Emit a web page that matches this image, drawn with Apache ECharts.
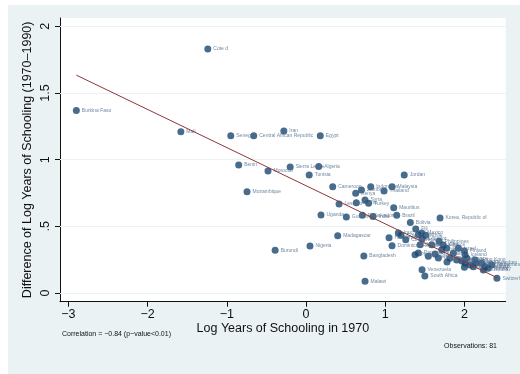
<!DOCTYPE html>
<html>
<head>
<meta charset="utf-8">
<script src="https://cdn.jsdelivr.net/npm/echarts@6/dist/echarts.min.js"></script>
<style>
  html, body { margin: 0; padding: 0; background: #ffffff; }
  #chart { width: 520px; height: 374px; }
</style>
</head>
<body>
<div id="chart"></div>
<script>
// Country labels, log years of schooling in 1970, and change 1970-1990
const countries = [
  "Burkina Faso", "Cote d", "Mali", "Senegal", "Central African Republic", "Iran", "Egypt",
  "Benin", "Morocco", "Sierra Leone", "Algeria", "Tunisia", "Jordan", "Mozambique",
  "Cameroon", "Kenya", "Zambia", "Indonesia", "Malaysia", "Thailand", "Lesotho", "Ghana",
  "Syria", "Turkey", "Mauritius", "Uganda", "Guatemala", "El Salvador", "India", "Brazil",
  "Bolivia", "Korea, Republic of", "Madagascar", "Burundi", "Nigeria", "Bangladesh", "Malawi",
  "Venezuela", "South Africa", "Switzerland", "Fiji", "Honduras", "Dominican Republic", "Iraq",
  "Colombia", "Costa Rica", "Peru", "Mexico", "Ecuador", "Jamaica", "Chile", "Sri Lanka",
  "Philippines", "Panama", "Paraguay", "Argentina", "Portugal", "Uruguay", "Cyprus", "Greece",
  "Spain", "Italy", "Israel", "Finland", "Trinidad and Tobago", "Singapore", "Ireland", "Austria",
  "Belgium", "France", "Iceland", "Japan", "United Kingdom", "Hong Kong", "Sweden", "Denmark",
  "Norway", "Australia", "Netherlands", "New Zealand", "Canada"
];
const logSchool1970 = [
  -2.90, -1.24, -1.58, -0.95, -0.66, -0.28, 0.18,
  -0.85, -0.48, -0.20, 0.16, 0.04, 1.24, -0.745,
  0.337, 0.627, 0.70, 0.817, 1.086, 0.985, 0.417, 0.635,
  0.745, 0.79, 1.107, 0.189, 0.509, 0.711, 0.846, 1.145,
  1.317, 1.692, 0.40, -0.39, 0.05, 0.73, 0.745,
  1.465, 1.50, 2.41, 1.385, 1.048, 1.086, 1.165,
  1.20, 1.259, 1.418, 1.461, 1.468, 1.44, 1.511, 1.587,
  1.68, 1.376, 1.418, 1.544, 1.629, 1.671, 1.713, 1.733,
  1.776, 1.86, 1.923, 2.00, 1.78, 1.818, 1.903, 1.966,
  2.008, 2.03, 2.008, 2.00, 2.147, 2.134, 2.218, 2.26,
  2.30, 2.239, 2.345, 2.112, 2.07
];
const diffLogSchool = [
  1.37, 1.83, 1.21, 1.18, 1.18, 1.215, 1.18,
  0.96, 0.915, 0.945, 0.95, 0.885, 0.885, 0.76,
  0.797, 0.748, 0.773, 0.797, 0.797, 0.765, 0.668, 0.677,
  0.698, 0.673, 0.64, 0.585, 0.57, 0.583, 0.575, 0.583,
  0.53, 0.563, 0.43, 0.32, 0.352, 0.278, 0.088,
  0.175, 0.128, 0.11, 0.48, 0.415, 0.355, 0.45,
  0.433, 0.40, 0.437, 0.45, 0.407, 0.362, 0.433, 0.362,
  0.388, 0.287, 0.30, 0.275, 0.293, 0.263, 0.325, 0.36,
  0.335, 0.298, 0.335, 0.315, 0.232, 0.26, 0.248, 0.24,
  0.223, 0.26, 0.285, 0.193, 0.225, 0.248, 0.223, 0.197,
  0.185, 0.173, 0.21, 0.197, 0.21
];
// Fitted line: intercept and slope of the linear fit
const fitCoef = [0.805, -0.286];
const xTicks = [-3, -2, -1, 0, 1, 2];
const yTicks = [0, 0.5, 1, 1.5, 2];
const corrNote = "Correlation = \u22120.84 (p\u2212value<0.01)";
const obsNote = "Observations: " + countries.length;

// Fit line spans the observed range of the x variable
const xLo = Math.min(...logSchool1970), xHi = Math.max(...logSchool1970);
const fitLine = [xLo, xHi].map(x => [x, fitCoef[0] + fitCoef[1] * x]);

const points = countries.map((c, i) => ({ name: c, value: [logSchool1970[i], diffLogSchool[i]] }));

const FONT = "Liberation Sans, Arial, sans-serif";
const chart = echarts.init(document.getElementById('chart'), null, { renderer: 'canvas' });
chart.setOption({
  backgroundColor: '#ffffff',
  animation: false,
  graphic: [
    { type: 'rect', z: -10, shape: { x: 8, y: 5, width: 512, height: 369 }, style: { fill: '#eaf2f3' } },
    { type: 'text', left: 62, top: 331, style: { text: corrNote, font: '7px ' + FONT, fill: '#111' } },
    { type: 'text', right: 23, top: 343, style: { text: obsNote, font: '7px ' + FONT, fill: '#111' } }
  ],
  grid: {
    left: 60, top: 18, width: 445.7, height: 283.7,
    show: true, backgroundColor: '#ffffff', borderWidth: 0
  },
  xAxis: {
    type: 'value', min: -3.106, max: 2.521,
    name: 'Log Years of Schooling in 1970', nameLocation: 'middle', nameGap: 20, nameMoveOverlap: false,
    nameTextStyle: { fontFamily: FONT, fontSize: 12.5, color: '#111' },
    axisLine: { show: true, onZero: false, lineStyle: { color: '#111', width: 1 } },
    axisTick: { show: true, length: 5, customValues: xTicks, lineStyle: { color: '#111' } },
    axisLabel: { customValues: xTicks, fontFamily: FONT, fontSize: 12.5, color: '#111', margin: 6,
      formatter: v => (v < 0 ? '\u2212' + Math.abs(v) : String(v)) },
    splitLine: { show: false }
  },
  yAxis: {
    type: 'value', min: -0.065, max: 2.063,
    name: 'Difference of Log Years of Schooling (1970\u20131990)', nameLocation: 'middle', nameGap: 26, nameMoveOverlap: false,
    nameTextStyle: { fontFamily: FONT, fontSize: 12.5, color: '#111' },
    axisLine: { show: true, onZero: false, lineStyle: { color: '#111', width: 1 } },
    axisTick: { show: true, length: 5, customValues: yTicks, lineStyle: { color: '#111' } },
    axisLabel: { customValues: yTicks, rotate: 90, fontFamily: FONT, fontSize: 12.5, color: '#111', margin: 8,
      formatter: v => (v > 0 && v < 1 ? String(v).replace(/^0/, '') : String(v)) },
    splitLine: { show: false }
  },
  series: [
    {
      type: 'scatter',
      symbol: 'circle', symbolSize: 7,
      itemStyle: { color: '#1a476f' },
      data: points,
      z: 3,
      label: {
        show: true, position: 'right', distance: 2,
        formatter: p => p.name,
        fontFamily: FONT, fontSize: 5, color: '#4f6b8c'
      },
      markLine: {
        silent: true, symbol: 'none', z: 1,
        label: { show: false },
        lineStyle: { color: '#eaf2f3', width: 1, type: 'solid' },
        data: yTicks.map(v => ({ yAxis: v }))
      }
    },
    {
      type: 'line',
      data: fitLine,
      showSymbol: false, symbol: 'none',
      lineStyle: { color: '#90353b', width: 1 },
      z: 4
    }
  ]
});
</script>
</body>
</html>
